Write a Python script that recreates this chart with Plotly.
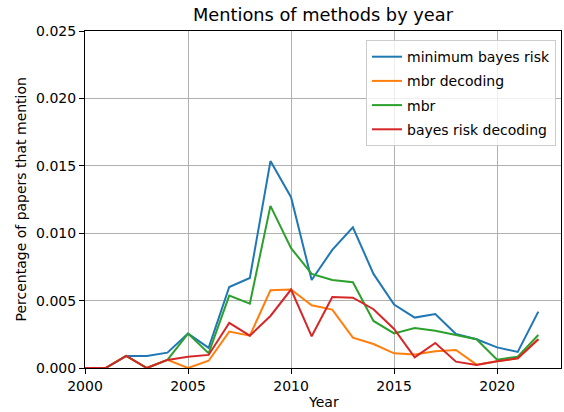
import plotly.graph_objects as go

years = list(range(2000, 2023))
minimum_bayes_risk = [0, 0, 0.00089, 0.00089, 0.00114, 0.00255, 0.00149, 0.00601, 0.00668,
                      0.01535, 0.01267, 0.00653, 0.00876, 0.01044, 0.00698, 0.0047, 0.00374,
                      0.00401, 0.00252, 0.00213, 0.00153, 0.00119, 0.00418]
mbr_decoding = [0, 0, 0.00089, 0, 0.0006, 0, 0.00054, 0.0027, 0.0024, 0.00577, 0.00582,
                0.00465, 0.00433, 0.00225, 0.00178, 0.00109, 0.00101, 0.00124, 0.00134,
                0.00025, 0.0005, 0.00072, 0.00213]
mbr = [0, 0, 0.00089, 0, 0.0006, 0.00255, 0.00109, 0.00537, 0.00478, 0.01203, 0.00889,
       0.00698, 0.00653, 0.00636, 0.00349, 0.00257, 0.00297, 0.00277, 0.00245, 0.00213,
       0.00062, 0.00084, 0.00245]
bayes_risk_decoding = [0, 0, 0.00089, 0, 0.0006, 0.00084, 0.00097, 0.00334, 0.0024, 0.00386,
                       0.00582, 0.00235, 0.00527, 0.00522, 0.00436, 0.0029, 0.00079, 0.00186,
                       0.00047, 0.00022, 0.0005, 0.00072, 0.00213]

series = [
    ("minimum bayes risk", minimum_bayes_risk, "#1f77b4"),
    ("mbr decoding", mbr_decoding, "#ff7f0e"),
    ("mbr", mbr, "#2ca02c"),
    ("bayes risk decoding", bayes_risk_decoding, "#d62728"),
]

x_ticks = [2000, 2005, 2010, 2015, 2020]
y_ticks = [0.0, 0.005, 0.010, 0.015, 0.020, 0.025]

FONT = "DejaVu Sans"
fig = go.Figure()
for i, (name, vals, color) in enumerate(series):
    fig.add_trace(go.Scatter(x=years, y=vals, mode="lines", name=name,
                             legendgroup=f"g{i}",
                             line=dict(color=color, width=2)))

axis_common = dict(showline=True, linecolor="black", linewidth=1, mirror=True,
                   ticks="outside", ticklen=5, tickcolor="black", tickwidth=1,
                   showgrid=True, gridcolor="#b0b0b0", gridwidth=1, zeroline=False,
                   tickfont=dict(family=FONT, size=14, color="black"))

fig.update_layout(
    width=564, height=412,
    margin=dict(l=85, r=3, t=31, b=44),
    paper_bgcolor="white", plot_bgcolor="white",
    font=dict(family=FONT, size=14, color="black"),
    title=dict(text="Mentions of methods by year", x=0.5, xref="paper", xanchor="center",
               y=1 - 15 / 412, yref="container", yanchor="middle",
               font=dict(family=FONT, size=17.8, color="black")),
    xaxis=dict(range=[2000, 2023.1], tickvals=x_ticks, ticktext=[str(v) for v in x_ticks],
               **axis_common),
    yaxis=dict(range=[0, 0.025], tickvals=y_ticks, ticktext=[f"{v:.3f}" for v in y_ticks],
               **axis_common),
    showlegend=True,
    legend=dict(x=0.9895, y=0.973, xanchor="right", yanchor="top",
                bgcolor="rgba(255,255,255,0.8)", bordercolor="#cccccc", borderwidth=1,
                font=dict(family=FONT, size=14, color="black"),
                tracegroupgap=3, traceorder="grouped", itemwidth=30),
    annotations=[
        dict(text="Year", xref="paper", yref="paper", x=0.5, y=0, xanchor="center",
             yanchor="middle", yshift=-(402 - 368), showarrow=False,
             font=dict(family=FONT, size=14, color="black")),
        dict(text="Percentage of papers that mention", xref="paper", yref="paper",
             x=0, y=0.5, xanchor="center", yanchor="middle", xshift=-(85 - 20),
             textangle=-90, showarrow=False,
             font=dict(family=FONT, size=14, color="black")),
    ],
)

fig.write_html("out.html", config={"displayModeBar": False},
               post_script="document.body.style.margin='0';")
